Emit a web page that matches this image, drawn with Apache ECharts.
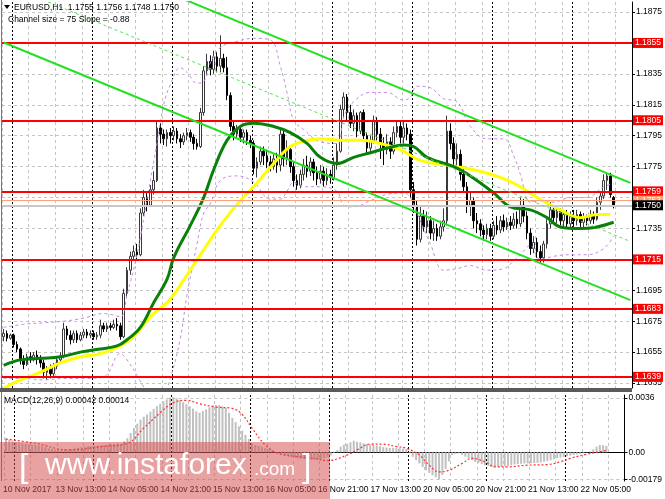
<!DOCTYPE html>
<html><head><meta charset="utf-8">
<script src="https://cdn.jsdelivr.net/npm/echarts@6/dist/echarts.min.js"></script>
<style>html,body{margin:0;padding:0;background:#fff}#c{width:665px;height:499px}</style>
</head><body><div id="c"></div>
<script>
// ---- data ----
const symbolText = 'EURUSD,H1  1.1755 1.1756 1.1748 1.1750';
const channelText = 'Channel size = 75 Slope = -0.88';
const macdText = 'MACD(12,26,9) 0.00042 0.00014';
const timeLabels = ['10 Nov 2017','13 Nov 13:00','14 Nov 05:00','14 Nov 21:00','15 Nov 13:00','16 Nov 05:00','16 Nov 21:00','17 Nov 13:00','20 Nov 05:00','20 Nov 21:00','21 Nov 13:00','22 Nov 05:00'];
const priceTicks = [1.1635,1.1655,1.1675,1.1695,1.1715,1.1735,1.1755,1.1775,1.1795,1.1815,1.1835,1.1855,1.1875];
const levelLines = [1.1855,1.1805,1.1759,1.1715,1.1683,1.1639];
const askPrice = 1.1753;
const bidPrice = 1.1750;
const macdTicks = [-0.00179, 0, 0.0036];
const macdTickText = ['-0.00179','0.00','0.0036'];
// [open, close, low, high]
const candles = [
[1.1665,1.1667,1.1662,1.1670],[1.1667,1.1664,1.1662,1.1669],[1.1664,1.1666,1.1663,1.1667],[1.1666,1.1660,1.1658,1.1667],
[1.1660,1.1657,1.1655,1.1662],[1.1657,1.1650,1.1647,1.1658],[1.1650,1.1647,1.1644,1.1653],[1.1647,1.1652,1.1646,1.1654],
[1.1652,1.1650,1.1648,1.1655],[1.1650,1.1653,1.1649,1.1655],[1.1653,1.1651,1.1647,1.1656],[1.1651,1.1648,1.1645,1.1653],
[1.1648,1.1642,1.1638,1.1650],[1.1642,1.1644,1.1637,1.1646],[1.1644,1.1641,1.1638,1.1647],[1.1641,1.1646,1.1639,1.1648],
[1.1646,1.1650,1.1644,1.1652],[1.1650,1.1652,1.1648,1.1655],[1.1652,1.1670,1.1651,1.1674],[1.1670,1.1666,1.1663,1.1672],
[1.1666,1.1663,1.1660,1.1669],[1.1663,1.1667,1.1661,1.1669],[1.1667,1.1663,1.1661,1.1669],[1.1663,1.1666,1.1662,1.1668],
[1.1666,1.1668,1.1664,1.1670],[1.1668,1.1666,1.1664,1.1670],[1.1666,1.1667,1.1664,1.1669],[1.1667,1.1665,1.1663,1.1669],
[1.1665,1.1666,1.1663,1.1668],[1.1666,1.1672,1.1664,1.1676],[1.1672,1.1670,1.1668,1.1674],[1.1670,1.1672,1.1668,1.1674],
[1.1672,1.1671,1.1669,1.1674],[1.1671,1.1673,1.1670,1.1676],[1.1673,1.1672,1.1669,1.1677],[1.1672,1.1665,1.1663,1.1674],
[1.1665,1.1693,1.1664,1.1696],[1.1693,1.1708,1.1690,1.1710],[1.1708,1.1717,1.1705,1.1720],[1.1717,1.1720,1.1714,1.1724],
[1.1720,1.1718,1.1715,1.1725],[1.1718,1.1745,1.1717,1.1748],[1.1745,1.1755,1.1743,1.1760],[1.1755,1.1750,1.1746,1.1758],
[1.1750,1.1760,1.1749,1.1763],[1.1760,1.1766,1.1757,1.1772],[1.1766,1.1800,1.1765,1.1805],[1.1800,1.1796,1.1790,1.1803],
[1.1796,1.1793,1.1789,1.1799],[1.1793,1.1797,1.1788,1.1799],[1.1797,1.1795,1.1790,1.1800],[1.1795,1.1798,1.1792,1.1801],
[1.1798,1.1793,1.1790,1.1800],[1.1793,1.1791,1.1787,1.1796],[1.1791,1.1795,1.1789,1.1797],[1.1795,1.1797,1.1792,1.1800],
[1.1797,1.1794,1.1791,1.1799],[1.1794,1.1790,1.1786,1.1796],[1.1790,1.1788,1.1786,1.1793],[1.1788,1.1810,1.1787,1.1813],
[1.1810,1.1837,1.1808,1.1840],[1.1837,1.1843,1.1834,1.1848],[1.1843,1.1838,1.1834,1.1847],[1.1838,1.1846,1.1835,1.1850],
[1.1846,1.1840,1.1836,1.1849],[1.1840,1.1845,1.1836,1.1860],[1.1845,1.1839,1.1836,1.1848],[1.1839,1.1821,1.1818,1.1846],
[1.1821,1.1801,1.1798,1.1823],[1.1801,1.1796,1.1792,1.1804],[1.1796,1.1799,1.1793,1.1802],[1.1799,1.1794,1.1791,1.1802],
[1.1794,1.1797,1.1790,1.1799],[1.1797,1.1792,1.1789,1.1799],[1.1792,1.1790,1.1787,1.1795],[1.1790,1.1774,1.1770,1.1792],
[1.1774,1.1778,1.1768,1.1781],[1.1778,1.1785,1.1776,1.1788],[1.1785,1.1782,1.1776,1.1788],[1.1782,1.1778,1.1774,1.1786],
[1.1778,1.1775,1.1772,1.1782],[1.1775,1.1780,1.1773,1.1783],[1.1780,1.1776,1.1771,1.1784],[1.1776,1.1796,1.1772,1.1799],
[1.1796,1.1780,1.1775,1.1798],[1.1780,1.1786,1.1776,1.1792],[1.1786,1.1775,1.1771,1.1788],[1.1775,1.1766,1.1762,1.1778],
[1.1766,1.1763,1.1760,1.1770],[1.1763,1.1770,1.1761,1.1773],[1.1770,1.1776,1.1766,1.1780],[1.1776,1.1772,1.1768,1.1782],
[1.1772,1.1778,1.1769,1.1781],[1.1778,1.1771,1.1766,1.1780],[1.1771,1.1767,1.1763,1.1775],[1.1767,1.1772,1.1764,1.1776],
[1.1772,1.1766,1.1762,1.1775],[1.1766,1.1770,1.1763,1.1774],[1.1770,1.1768,1.1764,1.1773],[1.1768,1.1776,1.1766,1.1781],
[1.1776,1.1785,1.1773,1.1790],[1.1785,1.1812,1.1784,1.1815],[1.1812,1.1820,1.1807,1.1823],[1.1820,1.1810,1.1805,1.1822],
[1.1810,1.1803,1.1800,1.1815],[1.1803,1.1808,1.1798,1.1812],[1.1808,1.1798,1.1794,1.1810],[1.1798,1.1810,1.1796,1.1811],
[1.1810,1.1795,1.1792,1.1812],[1.1795,1.1787,1.1783,1.1797],[1.1787,1.1792,1.1784,1.1795],[1.1792,1.1805,1.1790,1.1808],
[1.1805,1.1796,1.1792,1.1807],[1.1796,1.1790,1.1780,1.1800],[1.1790,1.1786,1.1776,1.1794],[1.1786,1.1791,1.1783,1.1796],
[1.1791,1.1785,1.1780,1.1794],[1.1785,1.1797,1.1783,1.1801],[1.1797,1.1801,1.1794,1.1805],[1.1801,1.1794,1.1790,1.1804],
[1.1794,1.1800,1.1790,1.1805],[1.1800,1.1796,1.1792,1.1803],[1.1796,1.1760,1.1755,1.1799],[1.1760,1.1750,1.1745,1.1765],
[1.1750,1.1728,1.1724,1.1753],[1.1728,1.1743,1.1726,1.1750],[1.1743,1.1736,1.1733,1.1747],[1.1736,1.1740,1.1732,1.1746],
[1.1740,1.1732,1.1728,1.1743],[1.1732,1.1735,1.1727,1.1740],[1.1735,1.1730,1.1727,1.1738],[1.1730,1.1736,1.1728,1.1740],
[1.1736,1.1740,1.1733,1.1748],[1.1740,1.1798,1.1738,1.1808],[1.1798,1.1790,1.1786,1.1803],[1.1790,1.1780,1.1776,1.1794],
[1.1780,1.1783,1.1775,1.1790],[1.1783,1.1770,1.1766,1.1786],[1.1770,1.1762,1.1758,1.1775],[1.1762,1.1750,1.1745,1.1765],
[1.1750,1.1753,1.1743,1.1758],[1.1753,1.1740,1.1735,1.1755],[1.1740,1.1738,1.1732,1.1745],[1.1738,1.1734,1.1730,1.1741],
[1.1734,1.1731,1.1727,1.1737],[1.1731,1.1735,1.1728,1.1738],[1.1735,1.1730,1.1727,1.1738],[1.1730,1.1737,1.1728,1.1740],
[1.1737,1.1734,1.1731,1.1743],[1.1734,1.1740,1.1732,1.1743],[1.1740,1.1736,1.1733,1.1744],[1.1736,1.1739,1.1734,1.1742],
[1.1739,1.1737,1.1734,1.1743],[1.1737,1.1741,1.1735,1.1745],[1.1741,1.1738,1.1735,1.1746],[1.1738,1.1750,1.1736,1.1755],
[1.1750,1.1743,1.1739,1.1754],[1.1743,1.1732,1.1728,1.1746],[1.1732,1.1722,1.1718,1.1735],[1.1722,1.1726,1.1719,1.1730],
[1.1726,1.1720,1.1716,1.1729],[1.1720,1.1716,1.1712,1.1724],[1.1716,1.1725,1.1713,1.1727],[1.1725,1.1738,1.1722,1.1741],
[1.1738,1.1747,1.1735,1.1752],[1.1747,1.1742,1.1739,1.1750],[1.1742,1.1746,1.1738,1.1749],[1.1746,1.1740,1.1737,1.1748],
[1.1740,1.1744,1.1736,1.1747],[1.1744,1.1738,1.1735,1.1747],[1.1738,1.1743,1.1735,1.1746],[1.1743,1.1740,1.1736,1.1747],
[1.1740,1.1744,1.1737,1.1747],[1.1744,1.1739,1.1736,1.1746],[1.1739,1.1742,1.1735,1.1745],[1.1742,1.1740,1.1737,1.1744],
[1.1740,1.1743,1.1738,1.1747],[1.1743,1.1741,1.1738,1.1746],[1.1741,1.1752,1.1740,1.1755],[1.1752,1.1756,1.1747,1.1759],
[1.1756,1.1766,1.1754,1.1770],[1.1766,1.1769,1.1760,1.1771],[1.1769,1.1757,1.1755,1.1771],[1.1755,1.1750,1.1748,1.1756]
];
const emptyBarsRight = 5;
// [bar index, price]
const greenMA = [[0,1.16465],[5,1.1650],[11,1.1651],[17,1.1652],[23,1.1655],[29,1.1657],[34,1.1659],[37,1.1663],[41,1.1671],[45,1.1687],[49,1.1702],[51,1.1716],[56,1.1737],[60,1.1755],[63,1.1773],[67,1.1792],[71,1.1801],[75,1.1803],[81,1.1801],[86,1.1797],[91,1.1790],[95,1.1781],[100,1.1777],[105,1.1781],[110,1.1784],[115,1.1787],[120,1.1789],[123,1.1788],[127,1.1781],[135,1.1775],[140,1.1769],[147,1.1758],[152,1.1749],[158,1.1747],[163,1.1742],[167,1.1736],[173,1.1735],[178,1.1736],[183,1.1739]];
const yellowMA = [[0,1.16316],[5,1.1637],[11,1.1642],[17,1.1648],[23,1.1652],[29,1.1654],[34,1.1658],[39,1.1665],[44,1.1678],[49,1.1687],[51,1.1692],[59,1.1718],[65,1.1737],[71,1.1753],[75,1.1762],[81,1.1777],[86,1.1788],[91,1.1792],[95,1.1793],[101,1.1792],[107,1.1792],[113,1.1790],[119,1.1786],[125,1.1779],[133,1.1776],[141,1.1773],[149,1.1768],[155,1.1762],[160,1.1755],[167,1.1747],[173,1.1742],[178,1.1744],[182,1.1744]];
const upperBand = [[0,1.1671],[6,1.1673],[12,1.1674],[18,1.1675],[24,1.1677],[30,1.1680],[35,1.1678],[37,1.1692],[40,1.1718],[43,1.1754],[46,1.1790],[48,1.1815],[50,1.1828],[53,1.1839],[55,1.1836],[58,1.1829],[60,1.1830],[62,1.1842],[65,1.1852],[70,1.1856],[75,1.1858],[80,1.1857],[83,1.1840],[85,1.1823],[87,1.1805],[90,1.1799],[95,1.1791],[100,1.1790],[102,1.1807],[105,1.1817],[110,1.1823],[115,1.1823],[120,1.1818],[122,1.1820],[124,1.1827],[128,1.1826],[132,1.1819],[136,1.1817],[140,1.1801],[145,1.1793],[150,1.1793],[153,1.1782],[155,1.1770],[158,1.1752],[161,1.1753],[165,1.1752],[170,1.1755],[175,1.1755],[180,1.1762],[183,1.1764]];
const lowerBand = [[0,1.1638],[6,1.1638],[12,1.1637],[18,1.1638],[24,1.1638],[30,1.1639],[35,1.1654],[37,1.1650],[40,1.1640],[43,1.16295],[46,1.1624],[48,1.1627],[50,1.1638],[53,1.1664],[55,1.1692],[58,1.1725],[60,1.1745],[62,1.1751],[65,1.1766],[70,1.1769],[75,1.1765],[80,1.1754],[83,1.1754],[85,1.1759],[87,1.1765],[90,1.1762],[95,1.1762],[100,1.1759],[102,1.1750],[105,1.1749],[110,1.1753],[115,1.1757],[120,1.1758],[122,1.1755],[124,1.1745],[128,1.1725],[132,1.1708],[136,1.1709],[140,1.1711],[145,1.1708],[150,1.1709],[153,1.1714],[155,1.1718],[158,1.1724],[161,1.1715],[165,1.1717],[170,1.1718],[175,1.1718],[180,1.1722],[183,1.1730]];
// regression channel: [bar index, price] at both ends
const channelUpper = [[0,1.19312],[188,1.17645]];
const channelMiddle = [[0,1.18933],[188,1.17266]];
const channelLower = [[0,1.18553],[188,1.16886]];
const macdHist = [
0.00094,0.00085,0.00077,0.00070,0.00065,0.00060,0.00056,0.00053,0.00050,0.00049,
0.00045,0.00040,0.00034,0.00027,0.00022,0.00018,0.00016,0.00015,0.00020,0.00018,
0.00022,0.00026,0.00030,0.00034,0.00038,0.00040,0.00041,0.00042,0.00044,0.00045,
0.00048,0.00051,0.00054,0.00057,0.00060,0.00055,0.00075,0.00094,0.00128,0.00161,
0.00190,0.00217,0.00236,0.00251,0.00270,0.00288,0.00306,0.00322,0.00337,0.00351,
0.00362,0.00367,0.00358,0.00345,0.00332,0.00319,0.00306,0.00290,0.00272,0.00262,
0.00273,0.00284,0.00298,0.00311,0.00313,0.00313,0.00305,0.00295,0.00262,0.00228,
0.00200,0.00172,0.00144,0.00116,0.00088,0.00060,0.00050,0.00042,0.00035,0.00027,
0.00020,0.00012,0.00004,0.00002,-0.00008,-0.00018,-0.00024,-0.00030,-0.00035,-0.00040,
-0.00043,-0.00046,-0.00048,-0.00050,-0.00051,-0.00050,-0.00045,-0.00038,-0.00029,-0.00020,
-0.00005,0.00015,0.00038,0.00050,0.00058,0.00067,0.00076,0.00070,0.00065,0.00060,
0.00056,0.00052,0.00049,0.00044,0.00040,0.00035,0.00031,0.00030,0.00029,0.00028,
0.00027,0.00025,0.00022,-0.00005,-0.00029,-0.00052,-0.00074,-0.00097,-0.00119,-0.00136,
-0.00152,-0.00165,-0.00179,-0.00150,-0.00110,-0.00060,-0.00018,-0.00010,-0.00007,-0.00018,
-0.00029,-0.00040,-0.00052,-0.00063,-0.00070,-0.00078,-0.00085,-0.00090,-0.00096,-0.00097,
-0.00097,-0.00096,-0.00093,-0.00090,-0.00085,-0.00080,-0.00078,-0.00076,-0.00074,-0.00073,
-0.00072,-0.00071,-0.00070,-0.00067,-0.00062,-0.00057,-0.00052,-0.00046,-0.00040,-0.00035,
-0.00030,-0.00026,-0.00022,-0.00018,-0.00014,-0.00010,-0.00007,-0.00002,0.00004,0.00020,
0.00038,0.00049,0.00047,0.00042];
const macdSignal = [[0,0.00087],[9,0.00060],[19,0.00016],[29,0.00038],[37,0.00060],[42,0.00161],[47,0.00262],[51,0.00329],[55,0.00345],[59,0.00322],[64,0.00300],[69,0.00291],[72,0.00251],[75,0.00161],[79,0.00049],[83,-0.00007],[89,-0.00029],[94,-0.00040],[98,-0.00055],[104,-0.00018],[107,0.00016],[111,0.00054],[115,0.00054],[119,0.00038],[122,0.00027],[126,-0.00018],[129,-0.00085],[132,-0.00130],[135,-0.00119],[139,-0.00074],[142,-0.00040],[146,-0.00063],[149,-0.00096],[153,-0.00096],[159,-0.00085],[165,-0.00081],[169,-0.00063],[172,-0.00040],[177,-0.00013],[181,0.00004],[183,0.00014]];

// ---- chart ----
const FONT = "'Liberation Sans', Arial, sans-serif";
const nCat = candles.length + emptyBarsRight;
const cats = Array.from({length: nCat}, (_, i) => String(i));
const chart = echarts.init(document.getElementById('c'), null, {renderer: 'canvas'});

function xAx(grid, kind) {
  const base = {gridIndex: grid, type: 'category', data: cats, boundaryGap: true,
    axisLine: {show: false}, axisTick: {show: false}, axisLabel: {show: false}};
  if (kind === 'grid') {
    base.splitLine = {show: true, interval: (i) => i % 8 === 0, lineStyle: {color: '#c4c4c4', type: [3, 3], width: 1}};
  } else if (kind === 'day') {
    base.position = 'top';
    base.splitLine = {show: true, interval: (i) => i % 24 === 3, lineStyle: {color: '#000', type: [2, 2], width: 1}};
  }
  return base;
}
const xAxes = [xAx(0, 'grid'), xAx(0, 'day'), xAx(1, 'grid'), xAx(1, 'day')];
xAxes[2].axisLine = {show: true, lineStyle: {color: '#000', width: 1}};
xAxes[2].axisLabel = {show: true, interval: (i) => i % 16 === 0, formatter: (v, i) => timeLabels[i / 16] || '',
  align: 'left', fontSize: 8.5, color: '#000', fontFamily: FONT, margin: 4, padding: [0, 0, 0, -3]};

const lvlLabel = (bg, fg) => ({show: true, position: 'end', distance: 1, formatter: (p) => Number(p.value).toFixed(4),
  color: fg, backgroundColor: bg, padding: [1, 2, 0, 2], fontSize: 8.5, fontFamily: FONT});

const option = {
  backgroundColor: '#fff',
  animation: false,
  grid: [
    {left: 2, right: 33, top: 2, height: 386},
    {left: 2, right: 33, top: 395, height: 86}
  ],
  xAxis: xAxes,
  yAxis: [
    {gridIndex: 0, type: 'value', position: 'right', min: 1.16318, max: 1.18815, scale: true,
      axisLine: {show: true, lineStyle: {color: '#000'}},
      axisTick: {show: true, length: 3, customValues: priceTicks, lineStyle: {color: '#000'}},
      axisLabel: {customValues: priceTicks, formatter: (v) => v.toFixed(4), fontSize: 8.5, color: '#000', fontFamily: FONT, margin: 4},
      splitLine: {show: true, lineStyle: {color: '#c4c4c4', type: [3, 3]}}},
    {gridIndex: 1, type: 'value', position: 'right', min: -0.0019, max: 0.0038,
      axisLine: {show: true, lineStyle: {color: '#000'}},
      axisTick: {show: true, length: 3, customValues: macdTicks, lineStyle: {color: '#000'}},
      axisLabel: {customValues: macdTicks, formatter: (v) => macdTickText[macdTicks.indexOf(v)] || '', fontSize: 8.5, color: '#000', fontFamily: FONT, margin: 4},
      splitLine: {show: true, lineStyle: {color: '#c4c4c4', type: [3, 3]}}}
  ],
  series: [
    {type: 'candlestick', xAxisIndex: 0, yAxisIndex: 0, data: candles, barWidth: 2.4, z: 3,
      itemStyle: {color: '#ffffff', color0: '#000000', borderColor: '#3a3a3a', borderColor0: '#000000', borderWidth: 1},
      markLine: {symbol: 'none', silent: true, precision: 5, z: 6,
        data: [
          ...levelLines.map((v) => ({yAxis: v, lineStyle: {color: '#ff0000', width: 2, type: 'solid'}, label: lvlLabel('#ff0000', '#fff')})),
          {yAxis: askPrice, lineStyle: {color: '#ffa07a', width: 1, type: 'solid'}, label: lvlLabel('#ff9a6a', '#fff')},
          {yAxis: bidPrice, lineStyle: {color: '#c8c8c8', width: 2, type: 'solid'}, label: lvlLabel('#000000', '#fff')}
        ]}},
    {type: 'line', name: 'bandUp', xAxisIndex: 0, yAxisIndex: 0, data: upperBand, smooth: 0.4, showSymbol: false, z: 4,
      lineStyle: {color: '#c48be0', width: 1, type: [3, 3]}},
    {type: 'line', name: 'bandLo', xAxisIndex: 0, yAxisIndex: 0, data: lowerBand, smooth: 0.4, showSymbol: false, z: 4,
      lineStyle: {color: '#c48be0', width: 1, type: [3, 3]}},
    {type: 'line', name: 'ma1', xAxisIndex: 0, yAxisIndex: 0, data: yellowMA, smooth: 0.4, showSymbol: false, z: 5,
      lineStyle: {color: '#ffff00', width: 3}},
    {type: 'line', name: 'ma2', xAxisIndex: 0, yAxisIndex: 0, data: greenMA, smooth: 0.4, showSymbol: false, z: 5,
      lineStyle: {color: '#0a7f0a', width: 3}},
    {type: 'line', name: 'chUp', xAxisIndex: 0, yAxisIndex: 0, data: channelUpper, showSymbol: false, z: 7,
      lineStyle: {color: '#22e022', width: 2}},
    {type: 'line', name: 'chMid', xAxisIndex: 0, yAxisIndex: 0, data: channelMiddle, showSymbol: false, z: 7,
      lineStyle: {color: '#55e055', width: 1, type: [3, 3]}},
    {type: 'line', name: 'chLo', xAxisIndex: 0, yAxisIndex: 0, data: channelLower, showSymbol: false, z: 7,
      lineStyle: {color: '#22e022', width: 2}},
    {type: 'bar', xAxisIndex: 2, yAxisIndex: 1, data: macdHist, barWidth: 2, itemStyle: {color: '#c0c0c0'}, z: 3},
    {type: 'line', xAxisIndex: 2, yAxisIndex: 1, data: macdSignal, smooth: 0.4, showSymbol: false, z: 4,
      lineStyle: {color: '#ff3030', width: 1.2, type: [2, 2]}}
  ],
  graphic: [
    {type: 'line', z: 50, shape: {x1: 1.5, y1: 0, x2: 1.5, y2: 481}, style: {stroke: '#777', lineWidth: 1}},
    {type: 'rect', z: 50, shape: {x: 0, y: 388, width: 632, height: 4}, style: {fill: '#5a5a5a'}},
    {type: 'polygon', z: 50, shape: {points: [[4, 5], [10, 5], [7, 9]]}, style: {fill: '#000'}},
    {type: 'text', z: 50, style: {text: symbolText, x: 14, y: 8, font: '8.5px ' + FONT, fill: '#000', verticalAlign: 'middle'}},
    {type: 'text', z: 50, style: {text: channelText, x: 8, y: 20, font: '8.5px ' + FONT, fill: '#000', verticalAlign: 'middle'}},
    {type: 'text', z: 50, style: {text: macdText, x: 4, y: 401, font: '8.5px ' + FONT, fill: '#000', verticalAlign: 'middle'}},
    {type: 'rect', z: 100, shape: {x: 0, y: 442, width: 330, height: 57}, style: {fill: 'rgba(212,70,70,0.5)'}},
    {type: 'text', z: 101, style: {text: '[', x: 19, y: 468, font: '34px ' + FONT, fill: '#fff', verticalAlign: 'middle'}},
    {type: 'text', z: 101, style: {text: 'www.instaforex', x: 45, y: 466, font: '30px ' + FONT, fill: '#fff', verticalAlign: 'middle'}},
    {type: 'text', z: 101, style: {text: '.com', x: 254, y: 470, font: '19px ' + FONT, fill: '#fff', verticalAlign: 'middle'}},
    {type: 'text', z: 101, style: {text: ']', x: 302, y: 468, font: '34px ' + FONT, fill: '#fff', verticalAlign: 'middle'}}
  ]
};
chart.setOption(option);
</script></body></html>
